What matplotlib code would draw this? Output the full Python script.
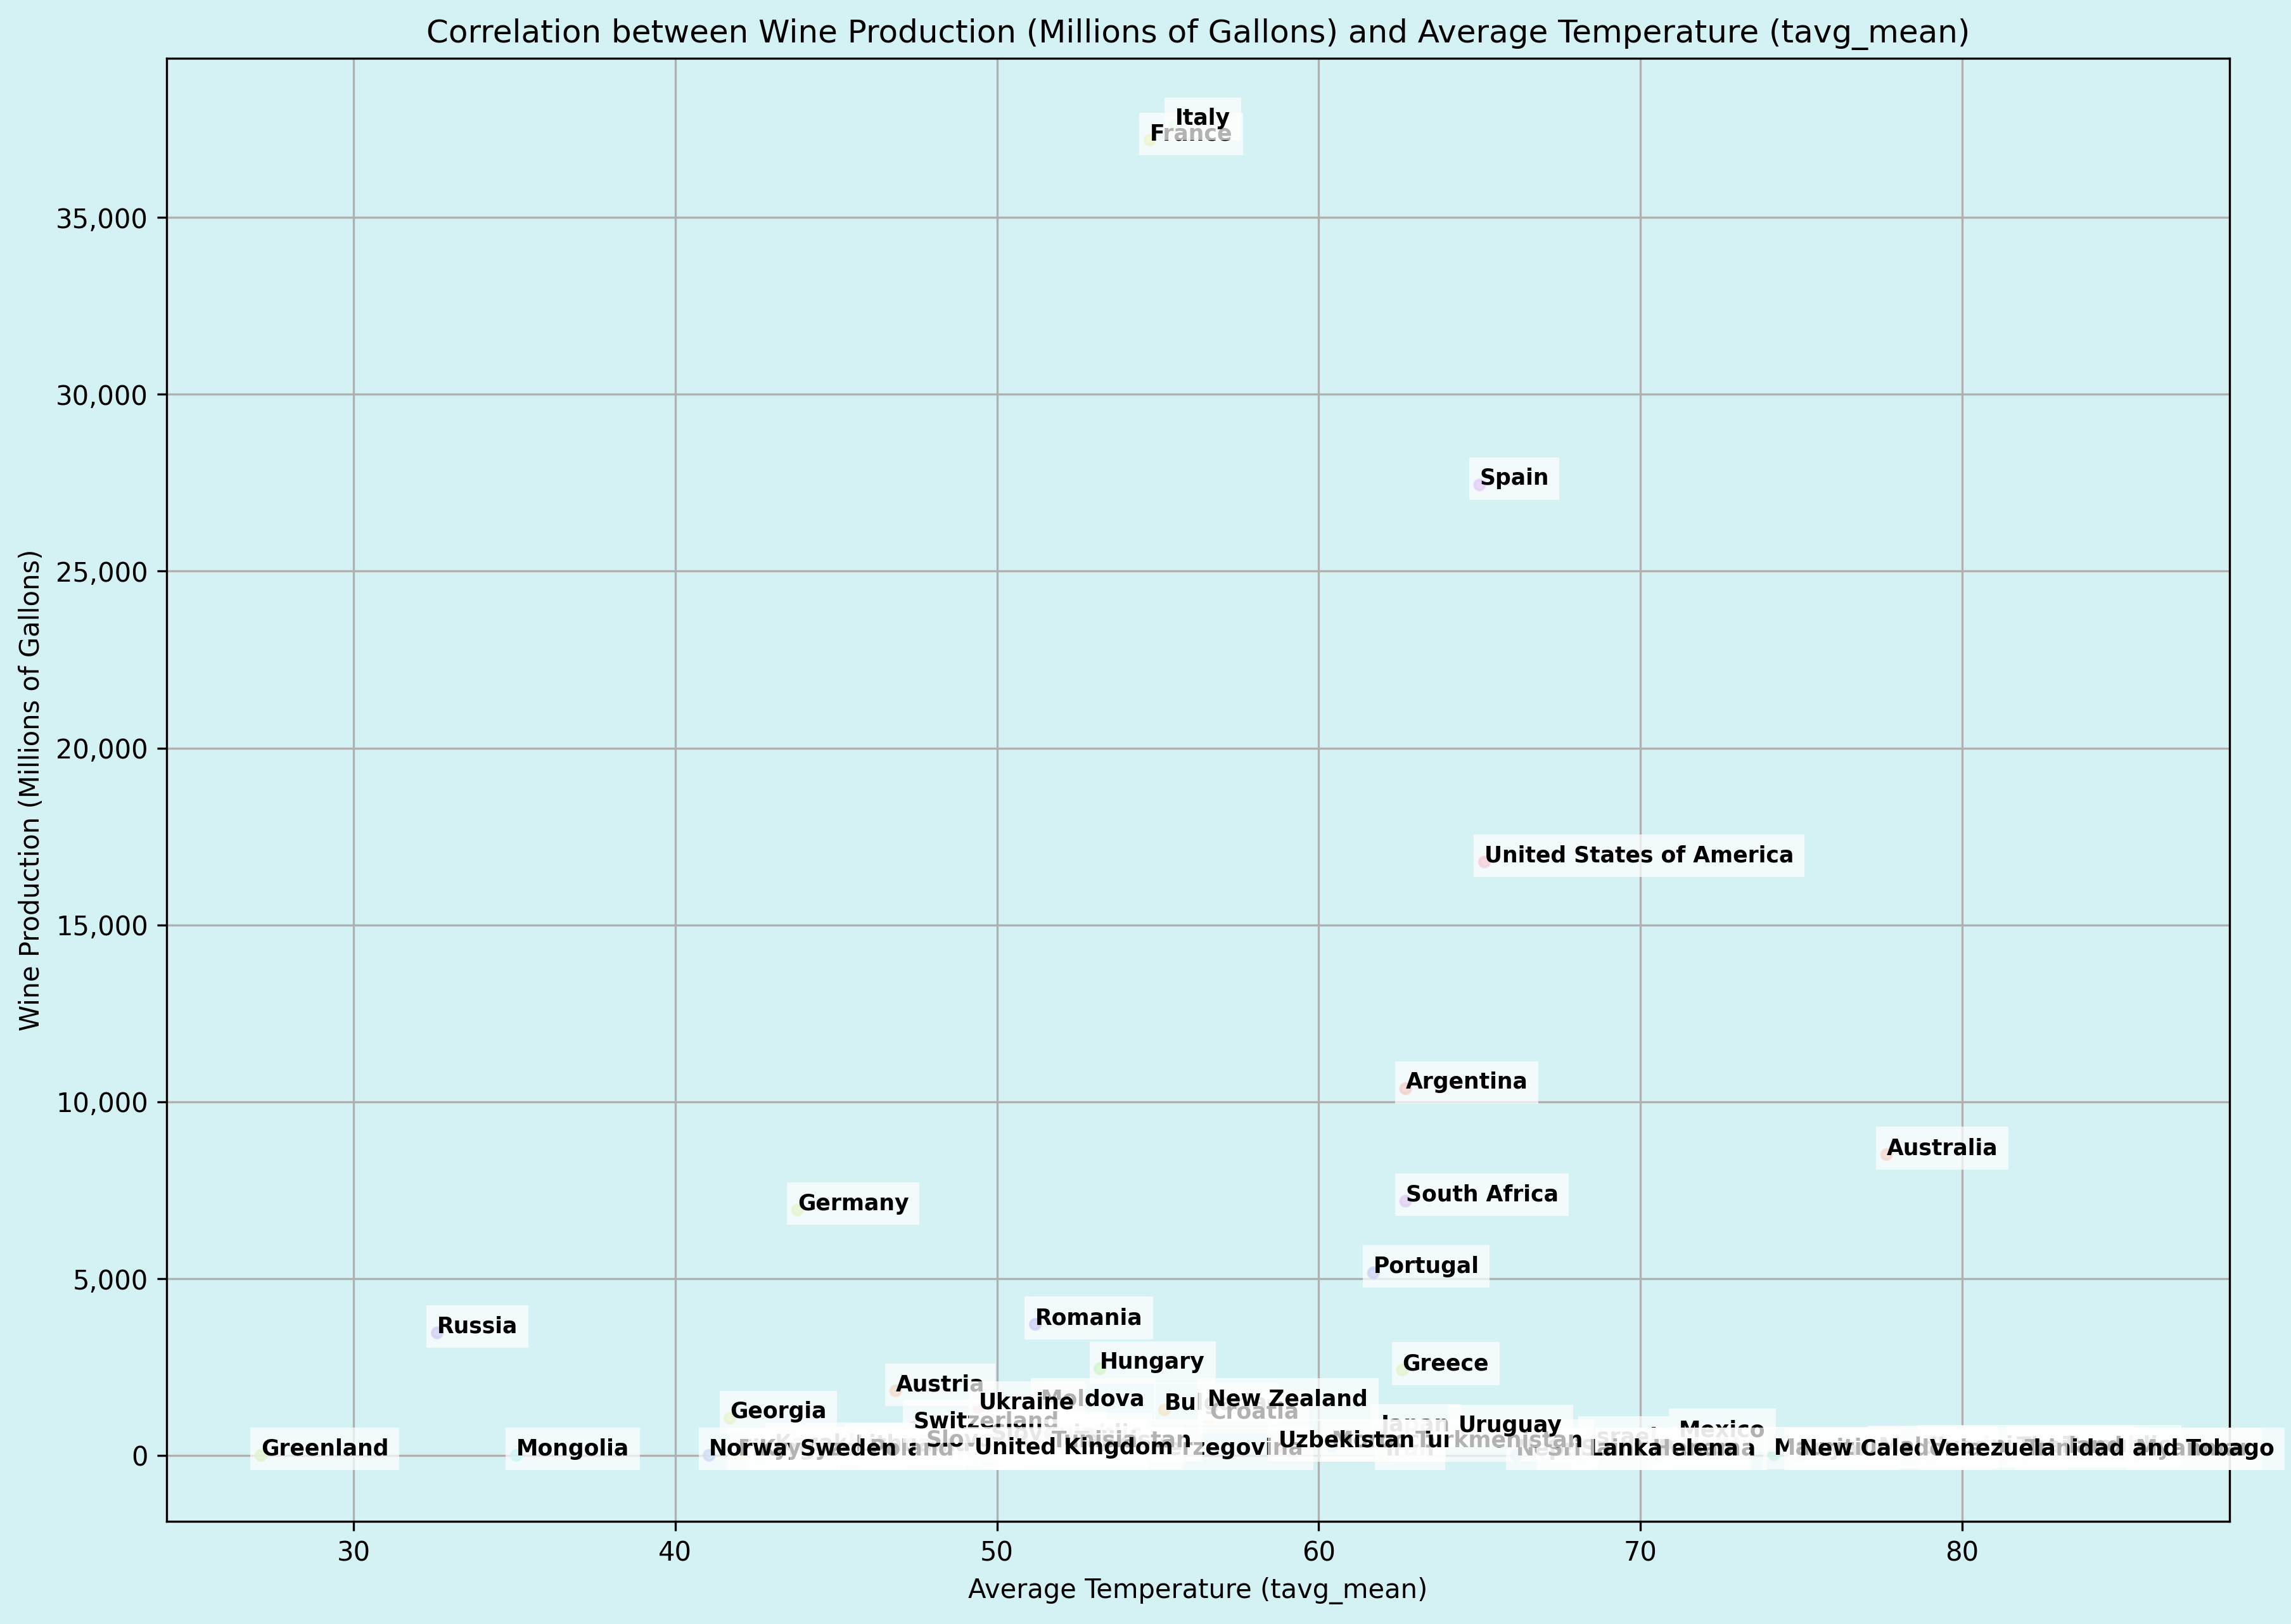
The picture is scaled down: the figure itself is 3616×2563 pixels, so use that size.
import matplotlib
matplotlib.use('Agg')
import matplotlib.pyplot as plt
import numpy as np
import seaborn as sns
from matplotlib.ticker import FuncFormatter

BG = '#D4F1F4'

countries = [
    'Argentina', 'Armenia', 'Australia', 'Austria', 'Azerbaijan', 'Bosnia and Herzegovina',
    'Bulgaria', 'Croatia', 'Czech Republic', 'Dominican Republic', 'Finland', 'France', 'Georgia',
    'Germany', 'Greece', 'Greenland', 'Guyana', 'Haiti', 'Hungary', 'Iran', 'Israel', 'Italy',
    'Japan', 'Kazakhstan', 'Kyrgyzstan', 'Lithuania', 'Maldives', 'Mauritius', 'Mexico',
    'Moldova', 'Mongolia', 'Morocco', 'Myanmar', 'Nepal', 'New Caledonia', 'New Zealand',
    'Norway', 'Panama', 'Poland', 'Portugal', 'Romania', 'Russia', 'Saint Helena', 'Slovakia',
    'Slovenia', 'South Africa', 'Spain', 'Sri Lanka', 'Sweden', 'Switzerland',
    'Tajikistan', 'Thailand', 'Trinidad and Tobago', 'Tunisia', 'Turkmenistan', 'Ukraine',
    'United Kingdom', 'United States of America', 'Uruguay', 'Uzbekistan', 'Venezuela',
]
tavg_mean = [
    62.7, 47.4, 77.65, 46.85, 50.3, 50.24,
    55.2, 56.6, 48.7, 78.9, 41.95, 54.75, 41.7,
    43.8, 62.6, 27.12, 74.8, 71.3, 53.2, 62.07, 68.4, 55.54,
    61.94, 43.1, 42.6, 45.6, 77.4, 74.15, 71.2,
    51.37, 35.06, 60.4, 85.4, 66.14, 74.94, 56.55,
    41.05, 70.55, 46.05, 61.7, 51.19, 32.6, 68.15, 47.8,
    49.8, 62.7, 65.0, 67.1, 43.88, 47.4,
    52.4, 81.7, 81.94, 51.7, 63.0, 49.44,
    49.3, 65.15, 64.35, 58.75, 79.0,
]
wine_production = [
    10370, 5, 8510, 1828, 5, 20,
    1290, 1057, 430, 90, 5, 37186, 1057,
    6940, 2420, 5, 10, 40, 2455, 5, 340, 37616,
    680, 160, 5, 140, 60, 30, 540,
    1415, 5, 250, 5, 5, 5, 1415,
    5, 5, 10, 5165, 3710, 3470, 5, 270,
    450, 7190, 27440, 5, 20, 790,
    240, 90, 5, 240, 240, 1326,
    30, 16780, 660, 250, 5,
]

colors = sns.color_palette('hls', len(countries))

fig = plt.figure(figsize=(3616 / 300, 2563 / 300), dpi=300, facecolor=BG)
ax = fig.add_axes([263 / 3616, 1 - 2401 / 2563, (3519 - 263) / 3616, (2401 - 92) / 2563], facecolor=BG)

ax.scatter(tavg_mean, wine_production, c=colors, alpha=0.7, s=15, zorder=2)
for name, x, y in zip(countries, tavg_mean, wine_production):
    ax.text(x, y, name, fontsize=8.3, fontweight='bold', color='black', zorder=3,
            bbox=dict(facecolor='white', alpha=0.7, edgecolor='none'))

ax.set_xlim(24.19, 88.31)
ax.set_ylim(-1860, 39500)
ax.set_xticks([30, 40, 50, 60, 70, 80])
ax.yaxis.set_major_formatter(FuncFormatter(lambda v, _: f'{int(v):,}'))
ax.set_title('Correlation between Wine Production (Millions of Gallons) and Average Temperature (tavg_mean)')
ax.set_xlabel('Average Temperature (tavg_mean)')
ax.set_ylabel('Wine Production (Millions of Gallons)')
ax.grid(True)
ax.set_axisbelow(True)

fig.savefig('out.png', dpi=300, facecolor=BG)
